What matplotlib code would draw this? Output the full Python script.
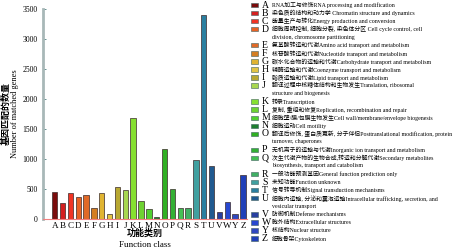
import matplotlib.pyplot as plt
from matplotlib.patches import Rectangle

plt.rcParams['font.family'] = ['Liberation Serif', 'Noto Sans CJK SC']

# 功能类别
letters = ['A', 'B', 'C', 'D', 'E', 'F', 'G', 'H', 'I', 'J', 'K', 'L', 'M',
           'N', 'O', 'P', 'Q', 'R', 'S', 'T', 'U', 'V', 'W', 'Y', 'Z']
counts = [455, 267, 428, 362, 405, 178, 438, 88, 528, 488, 1678, 305, 172,
          38, 1167, 495, 178, 178, 978, 3400, 878, 112, 278, 78, 740]
colors = ['#7a0c0c', '#d42020', '#f03424', '#e86224', '#e06a28', '#d47e22',
          '#e0b432', '#e2c444', '#b8a832', '#a8d850', '#86e030', '#6ed232',
          '#50d030', '#1f7f30', '#30b022', '#34b034', '#44c054', '#40b064',
          '#40a0a0', '#2a7fa0', '#205a90', '#2840a0', '#2848d0', '#3048c0',
          '#2040b8']
descs = ['RNA加工与修饰RNA processing and modification',
         '染色质的结构和动力学 Chromatin structure and dynamics',
         '能量生产与转化Energy production and conversion',
         '细胞周期控制, 细胞分裂, 染色体分区 Cell cycle control, cell\ndivision, chromosome partitioning',
         '氨基酸转运和代谢Amino acid transport and metabolism',
         '核苷酸转运和代谢Nucleotide transport and metabolism',
         '碳水化合物的运输和代谢Carbohydrate transport and metabolism',
         '辅酶运输和代谢Coenzyme transport and metabolism',
         '脂质运输和代谢Lipid transport and metabolism',
         '翻译过程中核糖体结构和生物发生Translation, ribosomal\nstructure and biogenesis',
         '转录Transcription',
         '复制, 重组和修复Replication, recombination and repair',
         '细胞壁/膜/包膜生物发生Cell wall/membrane/envelope biogenesis',
         '细胞运动Cell motility',
         '翻译后修饰, 蛋白质更新, 分子伴侣Posttranslational modification, protein\nturnover, chaperones',
         '无机离子的运输与代谢Inorganic ion transport and metabolism',
         '次生代谢产物的生物合成,转运和分解代谢Secondary metabolites\nbiosynthesis, transport and catabolism',
         '一般功能预测基因General function prediction only',
         '未知功能Function unknown',
         '信号转导机制Signal transduction mechanisms',
         '细胞内运输, 分泌和囊泡运输Intracellular trafficking, secretion, and\nvesicular transport',
         '防御机制Defense mechanisms',
         '胞外结构Extracellular structures',
         '核结构Nuclear structure',
         '细胞骨架Cytoskeleton']

fig = plt.figure(figsize=(4.55, 2.52), dpi=100)
ax = fig.add_axes([0.0945, 0.131, 0.448, 0.834])

x = range(len(letters))
ax.bar(x, counts, width=0.68, color=colors, edgecolor='#3a2a2a', linewidth=0.5)

ax.set_xlim(-1.5, len(letters) - 0.5)
ax.set_ylim(0, 3500)
ax.set_yticks(range(0, 3501, 500))
ax.tick_params(axis='y', direction='in', length=2, width=0.6, color='#508080',
               labelsize=5.5, pad=4)
ax.set_xticks(list(x))
ax.set_xticklabels(letters, fontsize=6.6)
ax.tick_params(axis='x', length=0, pad=2)

ax.spines['top'].set_visible(False)
ax.spines['right'].set_visible(False)
ax.spines['left'].set_color('#a8b8b8')
ax.spines['left'].set_linewidth(2)
ax.spines['bottom'].set_color('#f08080')
ax.spines['bottom'].set_linewidth(0.8)

# 轴标题
fig.text(0.014, 0.548, '基因匹配的数量', rotation=90, ha='center', va='center',
         fontsize=6.5, fontweight='bold')
fig.text(0.034, 0.548, 'Number of matched genes', rotation=90, ha='center',
         va='center', fontsize=6)
fig.text(0.318, 0.075, '功能类别', ha='center', va='center', fontsize=6.5,
         fontweight='bold')
fig.text(0.318, 0.027, 'Function class', ha='center', va='center', fontsize=6.5)

# 图例
line_h = 8.05 / 252
y = 1 - 5 / 252
for lt, c, d in zip(letters, colors, descs):
    fig.patches.append(Rectangle((251 / 455, y - 2.2 / 252), 7 / 455, 4.4 / 252,
                                 transform=fig.transFigure, facecolor=c,
                                 edgecolor='#406060', linewidth=0.4))
    fig.text(262 / 455, y, lt, ha='left', va='center', fontsize=7)
    for part in d.split('\n'):
        fig.text(272 / 455, y, part, ha='left', va='center', fontsize=4.2)
        y -= line_h

fig.savefig('out.png', dpi=100)
